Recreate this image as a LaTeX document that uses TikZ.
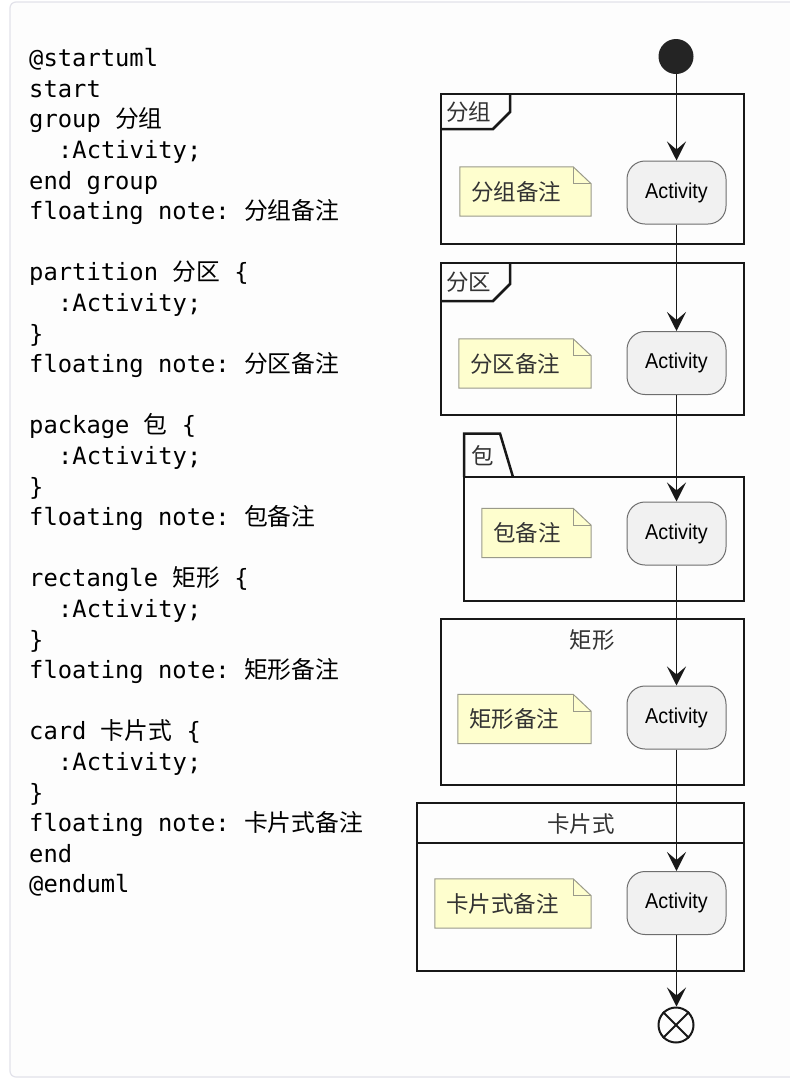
\documentclass[tikz,border=0pt]{standalone}
\usepackage{fontspec}
\setmonofont{DejaVu Sans Mono}
\newfontfamily\cjk{Noto Sans CJK SC}
\newfontfamily\actfont[FakeStretch=0.92]{Liberation Sans}
\usetikzlibrary{arrows.meta,backgrounds}
\definecolor{linec}{HTML}{181818}
\definecolor{actfill}{HTML}{F1F1F1}
\definecolor{actbd}{HTML}{6E6E6E}
\definecolor{notefill}{HTML}{FEFECE}
\definecolor{notebd}{HTML}{9A9A8A}
\definecolor{panelbd}{HTML}{E2E2EA}
\definecolor{panelfill}{HTML}{FDFDFD}
\tikzset{
  codeline/.style={anchor=base west, inner sep=0pt, font=\ttfamily\fontsize{23.8}{30}\selectfont, text=black},
  frame/.style={draw=linec, line width=2.5pt, inner sep=0pt},
  framelabel/.style={inner sep=0pt, font=\cjk\fontsize{22.5}{24}\selectfont, text=black!80},
  activity/.style={draw=actbd, fill=actfill, line width=1pt, rounded corners=18pt, minimum width=99pt, minimum height=63pt, inner sep=0pt, font=\actfont\fontsize{21.5}{22}\selectfont},
  notetext/.style={inner xsep=11pt, inner ysep=0pt, minimum height=49pt, align=left, font=\cjk\fontsize{22.5}{24}\selectfont, text=black!80},
  notebord/.style={draw=notebd, line width=1pt},
  flow/.style={draw=linec, line width=1.8pt, -{Stealth[length=19pt, width=19pt, inset=8pt]}},
}
\newcommand\dognote[1]{%
  \fill[notefill] (#1.north west) -- ([xshift=-18pt]#1.north east) -- ([yshift=-17pt]#1.north east) -- (#1.south east) -- (#1.south west) -- cycle;
  \draw[notebord] (#1.north west) -- ([xshift=-18pt]#1.north east) -- ([yshift=-17pt]#1.north east) -- (#1.south east) -- (#1.south west) -- cycle;
  \draw[notebord] ([xshift=-18pt]#1.north east) |- ([yshift=-17pt]#1.north east);
}
\begin{document}
\begin{tikzpicture}[x=1pt, y=-1pt]
\useasboundingbox (0,0) rectangle (790,1080);
\clip (0,0) rectangle (790,1080);
\begin{scope}[on background layer]
\fill[white] (0,0) rectangle (790,1080);
\draw[panelbd, fill=panelfill, line width=1.2pt, rounded corners=6pt] (10,2) rectangle (820,1077);
\end{scope}

% ---- code listing ----
\def\lh{30.6}
\node[codeline] (c0)  at (29, 66.7) {@startuml};
\node[codeline] (c1)  at (29, 66.7+1*\lh) {start};
\node[codeline] (c2)  at (29, 66.7+2*\lh) {group {\cjk 分组}};
\node[codeline] (c3)  at (57.9, 66.7+3*\lh) {:Activity;};
\node[codeline] (c4)  at (29, 66.7+4*\lh) {end group};
\node[codeline] (c5)  at (29, 66.7+5*\lh) {floating note: {\cjk 分组备注}};
\node[codeline] (c7)  at (29, 66.7+7*\lh) {partition {\cjk 分区} \{};
\node[codeline] (c8)  at (57.9, 66.7+8*\lh) {:Activity;};
\node[codeline] (c9)  at (29, 66.7+9*\lh) {\}};
\node[codeline] (c10) at (29, 66.7+10*\lh) {floating note: {\cjk 分区备注}};
\node[codeline] (c12) at (29, 66.7+12*\lh) {package {\cjk 包} \{};
\node[codeline] (c13) at (57.9, 66.7+13*\lh) {:Activity;};
\node[codeline] (c14) at (29, 66.7+14*\lh) {\}};
\node[codeline] (c15) at (29, 66.7+15*\lh) {floating note: {\cjk 包备注}};
\node[codeline] (c17) at (29, 66.7+17*\lh) {rectangle {\cjk 矩形} \{};
\node[codeline] (c18) at (57.9, 66.7+18*\lh) {:Activity;};
\node[codeline] (c19) at (29, 66.7+19*\lh) {\}};
\node[codeline] (c20) at (29, 66.7+20*\lh) {floating note: {\cjk 矩形备注}};
\node[codeline] (c22) at (29, 66.7+22*\lh) {card {\cjk 卡片式} \{};
\node[codeline] (c23) at (57.9, 66.7+23*\lh) {:Activity;};
\node[codeline] (c24) at (29, 66.7+24*\lh) {\}};
\node[codeline] (c25) at (29, 66.7+25*\lh) {floating note: {\cjk 卡片式备注}};
\node[codeline] (c26) at (29, 66.7+26*\lh) {end};
\node[codeline] (c27) at (29, 66.7+27*\lh) {@enduml};

% ---- frames ----
% group
\node[frame, minimum width=303pt, minimum height=150pt] (f1) at (592.5,169) {};
\draw[linec, line width=2.5pt] (441,129) -- (493,129) -- (510,112) -- (510,94);
\node[framelabel, anchor=west] (l1) at (446,112) {分组};
% partition
\node[frame, minimum width=303pt, minimum height=152pt] (f2) at (592.5,339) {};
\draw[linec, line width=2.5pt] (441,301) -- (493,301) -- (510,284) -- (510,263);
\node[framelabel, anchor=west] (l2) at (446,282) {分区};
% package
\node[frame, minimum width=280pt, minimum height=124pt] (f3) at (604,539) {};
\draw[linec, line width=2.5pt, line join=miter] (464,477) -- (464,433.5) -- (500,433.5) -- (513,477);
\node[framelabel, anchor=west] (l3) at (471,456) {包};
% rectangle
\node[frame, minimum width=303pt, minimum height=166pt] (f4) at (592.5,702) {};
\node[framelabel] (l4) at (592,640) {矩形};
% card
\node[frame, minimum width=327pt, minimum height=168pt] (f5) at (580.5,887) {};
\draw[linec, line width=2.5pt] (417,843) -- (744,843);
\node[framelabel] (l5) at (581,824) {卡片式};

% ---- start / end ----
\node[circle, fill=linec!95!white, minimum size=35pt, inner sep=0pt] (start) at (676,56.5) {};
\node[circle, draw=linec, line width=2pt, minimum size=35pt, inner sep=0pt] (end) at (676,1025) {};
\draw[linec, line width=2pt] (end.north west) -- (end.south east) (end.north east) -- (end.south west);

% ---- activities ----
\node[activity] (a1) at (676.5,192.5) {Activity};
\node[activity] (a2) at (676.5,363) {Activity};
\node[activity] (a3) at (676.5,533.5) {Activity};
\node[activity] (a4) at (676.5,717.5) {Activity};
\node[activity] (a5) at (676.5,903) {Activity};

% ---- notes ----
\node[notetext, text width=109pt] (n1) at (525.5,191.5) {分组备注};
\node[notetext, text width=110pt] (n2) at (525,363.5) {分区备注};
\node[notetext, text width=87pt]  (n3) at (536.5,533) {包备注};
\node[notetext, text width=111pt] (n4) at (524.5,719) {矩形备注};
\node[notetext, text width=134pt] (n5) at (513,903.5) {卡片式备注};
\begin{scope}[on background layer]
\dognote{n1}
\dognote{n2}
\dognote{n3}
\dognote{n4}
\dognote{n5}
\end{scope}

% ---- flow ----
\draw[flow] (start.south -| a1.north) -- (a1.north);
\draw[flow] (a1.south) -- (a2.north);
\draw[flow] (a2.south) -- (a3.north);
\draw[flow] (a3.south) -- (a4.north);
\draw[flow] (a4.south) -- (a5.north);
\draw[flow] (a5.south) -- (end.north -| a5.south);
\end{tikzpicture}
\end{document}
